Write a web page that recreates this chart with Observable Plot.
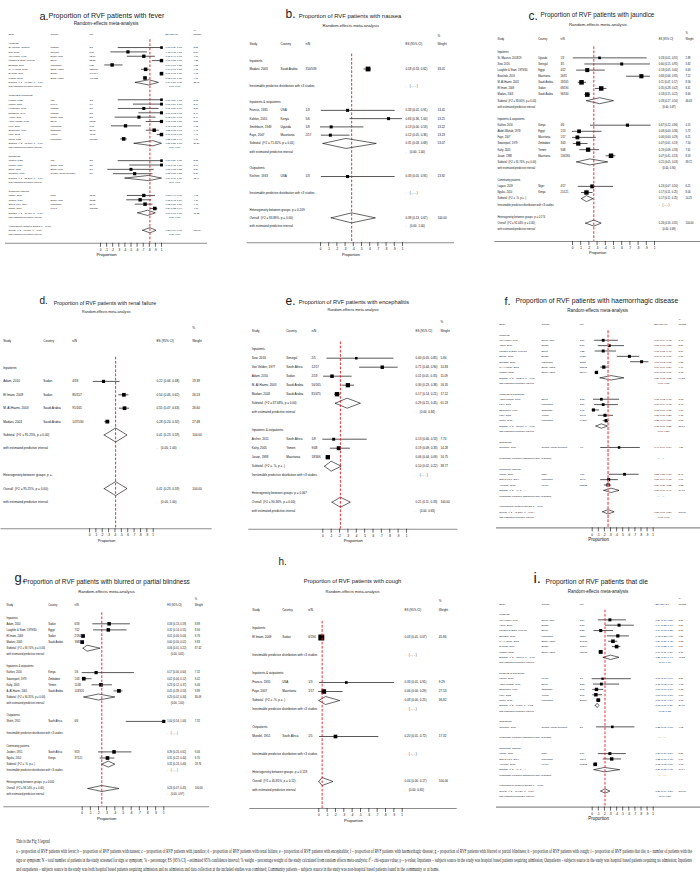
<!DOCTYPE html>
<html><head><meta charset="utf-8">
<script src="https://cdn.jsdelivr.net/npm/d3@7"></script>
<script src="https://cdn.jsdelivr.net/npm/@observablehq/plot@0.6"></script>
<style>
html,body{margin:0;padding:0;background:#fff;}
#fig{position:relative;width:700px;height:875px;overflow:hidden;background:#fff;}
</style></head>
<body><div id="fig"></div>
<script>
// ---------- shared labels ----------
const tickValues = [0,0.1,0.2,0.3,0.4,0.5,0.6,0.7,0.8,0.9,1];
const tickLabels = ["0",".1",".2",".3",".4",".5",".6",".7",".8",".9","1"];
const headerLabels = {study:"Study", country:"Country", nN:"n/N", es:"ES (95% CI)", weight:"Weight", pct:"%"};
const panelLetters = ["a.","b.","c.","d.","e.","f.","g.","h.","i."];
const panelTitles = [
  "Proportion of RVF patients with fever",
  "Proportion of RVF patients with nausea",
  "Proportion of RVF patients with jaundice",
  "Proportion of RVF patients with renal failure",
  "Proportion of RVF patients with encephalitis",
  "Proportion of RVF patients with haemorrhagic disease",
  "Proportion of RVF patients with blurred or partial blindness",
  "Proportion of RVF patients with cough",
  "Proportion of RVF patients that die"
];
const subtitleText = "Random-effects meta-analysis";
const axisLabel = "Proportion";

// ---------- data (type, study, country, n/N, ES, lo, hi, weight) ----------
const feverRows = [
  ["g","Inpatients"],
  ["s","St. Maurice, 2018/19","Uganda","3/3",1.00,0.29,1.00,2.55],
  ["s","Sow, 2016","Senegal","5/11",0.45,0.17,0.77,3.80],
  ["s","Van Velden, 1977","South Africa","12/17",0.71,0.44,0.90,4.06],
  ["s","Laughlin & Stam, 1979/80","Egypt","22/22",1.00,0.85,1.00,4.25],
  ["s","Boushab, 2016","Mauritania","6/31",0.19,0.07,0.37,4.38],
  ["s","M. Al-Hazmi, 2003","Saudi Arabia","122/165",0.74,0.67,0.80,4.65],
  ["s","El Imam, 2009","Sudan","194/194",1.00,0.98,1.00,4.68],
  ["s","Madani, 2003","Saudi Arabia","499/683",0.73,0.70,0.76,4.70],
  ["sub","Subtotal  (I^2 = 97.63%, p = 0.00)",0.79,0.57,0.95,33.07],
  ["pi",0.00,1.00],
  ["gap"],
  ["g","Inpatients & outpatients"],
  ["s","Francis, 1935","USA","3/3",1.00,0.29,1.00,2.55],
  ["s","Kahlon, 2010","Kenya","6/6",1.00,0.54,1.00,3.04],
  ["s","Henderson, 1972","Uganda","5/7",0.71,0.29,0.96,3.30],
  ["s","Smithburn, 1949","Uganda","8/8",1.00,0.63,1.00,3.49],
  ["s","Archer, 2011","South Africa","5/8",0.63,0.24,0.91,3.49],
  ["s","Abdel-Wahab, 1978","Egypt","13/13",1.00,0.75,1.00,3.86],
  ["s","Faye, 2007","Mauritania","7/17",0.41,0.18,0.67,4.03],
  ["s","Swanepoel, 1979","Zimbabwe","38/43",0.88,0.75,0.96,4.41],
  ["s","Kahy, 2005","Yemen","48/48",1.00,0.93,1.00,4.44],
  ["s","Jouan, 1988","Mauritania","109/284",0.38,0.33,0.44,4.66],
  ["sub","Subtotal  (I^2 = 95.00%, p = 0.00)",0.86,0.55,1.00,37.27],
  ["pi",0.00,1.00],
  ["gap"],
  ["g","Outpatients"],
  ["s","Kitchen, 1933","USA","3/3",1.00,0.29,1.00,2.55],
  ["s","Mundel, 1951","South Africa","5/5",1.00,0.48,1.00,3.06],
  ["s","Shieh, 1951","South Africa","3/6",0.50,0.12,0.88,3.24],
  ["s","Gonzalez, 1987","Central African Republic","5/9",0.56,0.21,0.86,3.59],
  ["sub","Subtotal  (I^2 = 53.26%, p = 0.09)",0.79,0.40,1.00,12.44],
  ["pi",0.00,1.00],
  ["gap"],
  ["g","Community patients"],
  ["s","Lagare, 2019","Niger","12/17",0.71,0.44,0.90,4.03],
  ["s","Joubert, 1951","South Africa","15/23",0.65,0.43,0.84,4.19],
  ["s","Sow & Faye, 2014","Mauritania","30/41",0.73,0.57,0.86,4.40],
  ["s","Nguku, 2010","Kenya","108/121",0.89,0.82,0.94,4.60],
  ["sub","Subtotal  (I^2 = 77.60%, p = 0.00)",0.77,0.61,0.90,17.22],
  ["pi",0.30,1.00],
  ["gap"],
  ["het","Heterogeneity between groups: p = 0.961"],
  ["ov","Overall  (I^2 = 95.13%, p = 0.00);",0.81,0.69,0.91,100.00],
  ["pi",0.15,1.00]
];

const nauseaRows = [
  ["g","Inpatients"],
  ["s","Madani, 2003","Saudi Arabia","310/539",0.58,0.53,0.62,33.01],
  ["gap"],
  ["na"],
  ["gap"],
  ["g","Inpatients & outpatients"],
  ["s","Francis, 1935","USA","1/3",0.33,0.01,0.91,13.41],
  ["s","Kahlon, 2010","Kenya","5/6",0.83,0.36,1.00,13.21],
  ["s","Smithburn, 1949","Uganda","1/8",0.13,0.00,0.53,13.22],
  ["s","Faye, 2007","Mauritania","2/17",0.12,0.01,0.36,13.23],
  ["sub","Subtotal  (I^2 = 71.65%, p = 0.01)",0.31,0.03,0.68,53.07],
  ["pi",0.00,1.00],
  ["gap"],
  ["g","Outpatients"],
  ["s","Kitchen, 1933","USA","1/3",0.33,0.01,0.91,13.92],
  ["gap"],
  ["na"],
  ["gap"],
  ["het","Heterogeneity between groups: p = 0.209"],
  ["ov","Overall  (I^2 = 83.89%, p = 0.00);",0.38,0.13,0.67,100.00],
  ["pi",0.00,1.00]
];

const jaundiceRows = [
  ["g","Inpatients"],
  ["s","St. Maurice, 2018/19","Uganda","1/3",0.33,0.01,0.91,2.89],
  ["s","Sow, 2016","Senegal","3/5",0.60,0.15,0.95,3.82],
  ["s","Laughlin & Stam, 1979/80","Egypt","4/22",0.18,0.05,0.40,6.63],
  ["s","Boushab, 2016","Mauritania","26/31",0.84,0.66,0.95,7.12],
  ["s","M. Al-Hazmi, 2003","Saudi Arabia","18/165",0.11,0.07,0.17,8.56],
  ["s","El Imam, 2009","Sudan","68/194",0.35,0.28,0.42,8.41],
  ["s","Madani, 2003","Saudi Arabia","96/530",0.18,0.15,0.22,8.60],
  ["sub","Subtotal  (I^2 = 93.60%, p = 0.00)",0.33,0.17,0.50,46.03],
  ["pi",0.00,0.87],
  ["gap"],
  ["g","Inpatients & outpatients"],
  ["s","Kahlon, 2010","Kenya","4/6",0.67,0.22,0.96,4.15],
  ["s","Abdel-Wahab, 1978","Egypt","1/13",0.08,0.00,0.36,5.72],
  ["s","Faye, 2007","Mauritania","1/17",0.06,0.00,0.29,6.21],
  ["s","Swanepoel, 1979","Zimbabwe","3/43",0.07,0.01,0.19,7.50],
  ["s","Kahy, 2005","Yemen","9/48",0.19,0.09,0.33,7.61],
  ["s","Jouan, 1988","Mauritania","134/284",0.47,0.41,0.53,8.53],
  ["sub","Subtotal  (I^2 = 91.76%, p = 0.00)",0.21,0.05,0.43,39.72],
  ["pi",0.00,0.94],
  ["gap"],
  ["g","Community patients"],
  ["s","Lagare, 2019","Niger","4/17",0.24,0.07,0.50,6.21],
  ["s","Nguku, 2010","Kenya","21/121",0.17,0.11,0.25,8.04],
  ["sub","Subtotal  (I^2 = .%, p = .)",0.17,0.11,0.25,14.25],
  ["na"],
  ["gap"],
  ["het","Heterogeneity between groups: p = 0.174"],
  ["ov","Overall  (I^2 = 92.44%, p = 0.00);",0.26,0.16,0.35,100.00],
  ["pi",0.00,0.69]
];

const renalRows = [
  ["g","Inpatients"],
  ["s","Adam, 2010","Sudan","4/18",0.22,0.06,0.48,19.39],
  ["s","El Imam, 2009","Sudan","85/157",0.54,0.46,0.62,26.53],
  ["s","M. Al-Hazmi, 2003","Saudi Arabia","91/165",0.55,0.47,0.63,26.60],
  ["s","Madani, 2003","Saudi Arabia","147/530",0.28,0.24,0.32,27.48],
  ["sub","Subtotal  (I^2 = 95.25%, p = 0.00)",0.41,0.23,0.59,100.00],
  ["pi",0.00,1.00],
  ["gap"],
  ["het","Heterogeneity between groups: p = ."],
  ["ov","Overall  (I^2 = 95.25%, p = 0.00);",0.41,0.23,0.59,100.00],
  ["pi",0.00,1.00]
];

const encephalitisRows = [
  ["g","Inpatients"],
  ["s","Sow, 2016","Senegal","2/5",0.40,0.05,0.85,5.84],
  ["s","Van Velden, 1977","South Africa","12/17",0.71,0.44,0.90,10.83],
  ["s","Adam, 2010","Sudan","2/18",0.11,0.01,0.35,11.09],
  ["s","M. Al-Hazmi, 2003","Saudi Arabia","50/165",0.30,0.23,0.38,16.35],
  ["s","Madani, 2003","Saudi Arabia","81/475",0.17,0.14,0.21,17.12],
  ["sub","Subtotal  (I^2 = 87.68%, p = 0.00)",0.29,0.15,0.45,61.23],
  ["pi",0.00,0.84],
  ["gap"],
  ["g","Inpatients & outpatients"],
  ["s","Archer, 2011","South Africa","1/8",0.13,0.00,0.53,7.74],
  ["s","Kahy, 2005","Yemen","9/48",0.19,0.09,0.33,14.28],
  ["s","Jouan, 1988","Mauritania","18/306",0.06,0.04,0.09,16.75],
  ["sub","Subtotal  (I^2 = .%, p = .)",0.10,0.02,0.22,38.77],
  ["na"],
  ["gap"],
  ["het","Heterogeneity between groups: p = 0.067"],
  ["ov","Overall  (I^2 = 90.36%, p = 0.00);",0.21,0.11,0.33,100.00],
  ["pi",0.00,0.63]
];

const haemorrhagicRows = [
  ["g","Inpatients"],
  ["s","Van Velden, 1977","South Africa","3/17",0.18,0.04,0.43,5.47],
  ["s","Adam, 2010","Sudan","5/18",0.28,0.10,0.53,5.58],
  ["s","Laughlin & Stam, 1979/80","Egypt","4/22",0.18,0.05,0.40,5.89],
  ["s","Baudin, 2016","Sudan","17/28",0.61,0.41,0.78,6.18],
  ["s","Boushab, 2016","Mauritania","25/31",0.81,0.63,0.93,6.31],
  ["s","M. Al-Hazmi, 2003","Saudi Arabia","32/165",0.19,0.14,0.26,7.46],
  ["s","Madani, 2003","Saudi Arabia","35/494",0.07,0.05,0.10,7.63],
  ["sub","Subtotal  (I^2 = 95.26%, p = 0.00)",0.31,0.13,0.52,44.52],
  ["pi",0.00,0.95],
  ["gap"],
  ["g","Inpatients & outpatients"],
  ["s","Abdel-Wahab, 1978","Egypt","2/13",0.15,0.02,0.45,5.03],
  ["s","Faye, 2007","Mauritania","3/17",0.18,0.04,0.43,5.47],
  ["s","Swanepoel, 1979","Zimbabwe","1/43",0.02,0.00,0.12,6.68],
  ["s","Kahy, 2005","Yemen","10/48",0.21,0.10,0.35,6.75],
  ["s","Jouan, 1988","Mauritania","64/284",0.23,0.18,0.28,7.58],
  ["sub","Subtotal  (I^2 = 73.17%, p = 0.00)",0.15,0.06,0.25,31.51],
  ["pi",0.00,0.50],
  ["gap"],
  ["g","Outpatients"],
  ["s","Gonzalez, 1987","Central African Republic","4/9",0.44,0.14,0.79,4.37],
  ["gap"],
  ["na"],
  ["gap"],
  ["g","Community patients"],
  ["s","Lagare, 2019","Niger","9/17",0.53,0.28,0.77,5.47],
  ["s","Sow & Faye, 2014","Mauritania","11/41",0.27,0.14,0.43,6.61],
  ["s","Anyangu, 2010","Kenya","52/202",0.26,0.20,0.32,7.52],
  ["sub","Subtotal  (I^2 = .%, p = .)",0.31,0.19,0.44,19.60],
  ["na"],
  ["gap"],
  ["het","Heterogeneity between groups: p = 0.099"],
  ["ov","Overall  (I^2 = 91.38%, p = 0.00);",0.26,0.17,0.36,100.00],
  ["pi",0.00,0.67]
];

const blindnessRows = [
  ["g","Inpatients"],
  ["s","Adam, 2010","Sudan","6/18",0.33,0.13,0.59,8.89],
  ["s","Laughlin & Stam, 1979/80","Egypt","7/22",0.32,0.14,0.55,8.94],
  ["s","El Imam, 2009","Sudan","2/194",0.01,0.00,0.04,9.76],
  ["s","Madani, 2003","Saudi Arabia","3/683",0.00,0.00,0.01,9.83],
  ["sub","Subtotal  (I^2 = 93.74%, p = 0.00)",0.06,0.01,0.22,37.42],
  ["pi",0.00,0.65],
  ["gap"],
  ["g","Inpatients & outpatients"],
  ["s","Kahlon, 2010","Kenya","1/6",0.17,0.00,0.64,7.32],
  ["s","Swanepoel, 1979","Zimbabwe","1/43",0.02,0.00,0.12,9.42],
  ["s","Kahy, 2005","Yemen","11/48",0.23,0.12,0.37,9.46],
  ["s","A. Al-Hazmi, 2005","Saudi Arabia","143/320",0.45,0.39,0.50,9.89],
  ["sub","Subtotal  (I^2 = 94.35%, p = 0.00)",0.20,0.02,0.40,36.09],
  ["pi",0.00,1.00],
  ["gap"],
  ["g","Outpatients"],
  ["s","Shieh, 1951","South Africa","6/6",1.00,0.54,1.00,7.32],
  ["gap"],
  ["na"],
  ["gap"],
  ["g","Community patients"],
  ["s","Joubert, 1951","South Africa","9/23",0.39,0.20,0.61,9.06],
  ["s","Nguku, 2010","Kenya","37/121",0.31,0.22,0.40,9.70],
  ["sub","Subtotal  (I^2 = .%, p = .)",0.32,0.24,0.40,18.76],
  ["na"],
  ["gap"],
  ["het","Heterogeneity between groups: p = 0.000"],
  ["ov","Overall  (I^2 = 96.54%, p = 0.00);",0.24,0.07,0.45,100.00],
  ["pi",0.00,0.97]
];

const coughRows = [
  ["g","Inpatients"],
  ["s","El Imam, 2009","Sudan","6/194",0.03,0.01,0.07,45.86],
  ["gap"],
  ["na"],
  ["gap"],
  ["g","Inpatients & outpatients"],
  ["s","Francis, 1935","USA","1/3",0.33,0.01,0.91,9.29],
  ["s","Faye, 2007","Mauritania","1/17",0.06,0.00,0.29,27.53],
  ["sub","Subtotal  (I^2 = .%, p = .)",0.08,0.00,0.25,36.82],
  ["na"],
  ["gap"],
  ["g","Outpatients"],
  ["s","Mundel, 1951","South Africa","1/5",0.20,0.01,0.72,17.32],
  ["gap"],
  ["na"],
  ["gap"],
  ["het","Heterogeneity between groups: p = 0.118"],
  ["ov","Overall  (I^2 = 45.85%, p = 0.12);",0.04,0.00,0.17,100.00],
  ["pi",0.00,0.65]
];

const deathRows = [
  ["g","Inpatients"],
  ["s","Van Velden, 1977","South Africa","5/17",0.29,0.10,0.56,5.26],
  ["s","Adam, 2010","Sudan","8/18",0.44,0.22,0.69,5.37],
  ["s","Laughlin & Stam, 1979/80","Egypt","3/22",0.14,0.03,0.35,5.73],
  ["s","Boushab, 2016","Mauritania","13/31",0.42,0.25,0.61,6.28],
  ["s","M. Al-Hazmi, 2003","Saudi Arabia","56/165",0.34,0.27,0.42,7.52],
  ["s","El Imam, 2009","Sudan","78/194",0.40,0.33,0.47,7.59],
  ["s","Madani, 2003","Saudi Arabia","95/683",0.14,0.11,0.17,8.78],
  ["sub","Subtotal  (I^2 = 92.54%, p = 0.00)",0.30,0.18,0.44,46.53],
  ["pi",0.00,0.77],
  ["gap"],
  ["g","Inpatients & outpatients"],
  ["s","Kahlon, 2010","Kenya","1/6",0.17,0.00,0.64,3.26],
  ["s","Abdel-Wahab, 1978","Egypt","2/13",0.15,0.02,0.45,4.73],
  ["s","Swanepoel, 1979","Zimbabwe","3/43",0.07,0.01,0.19,6.73],
  ["s","Kahy, 2005","Yemen","3/48",0.06,0.01,0.17,6.87],
  ["s","Jouan, 1988","Mauritania","28/284",0.10,0.07,0.14,8.02],
  ["sub","Subtotal  (I^2 = 0.00%, p = 0.73)",0.08,0.05,0.11,29.61],
  ["pi",0.03,0.13],
  ["gap"],
  ["g","Outpatients"],
  ["s","Gonzalez, 1987","Central African Republic","3/9",0.33,0.07,0.70,4.02],
  ["gap"],
  ["na"],
  ["gap"],
  ["g","Community patients"],
  ["s","Lagare, 2019","Niger","5/17",0.29,0.10,0.56,5.26],
  ["s","Sow & Faye, 2014","Mauritania","13/41",0.32,0.18,0.48,6.67],
  ["s","Anyangu, 2010","Kenya","10/202",0.05,0.02,0.09,7.91],
  ["sub","Subtotal  (I^2 = .%, p = .)",0.20,0.03,0.45,19.84],
  ["na"],
  ["gap"],
  ["het","Heterogeneity between groups: p = 0.001"],
  ["ov","Overall  (I^2 = 90.42%, p = 0.00);",0.21,0.14,0.29,100.00],
  ["pi",0.00,0.56]
];

const captionHead = "This is the Fig 3 legend";
const captionLines = [
  "a – proportion of RVF patients with fever; b – proportion of RVF patients with nausea; c – proportion of RVF patients with jaundice; d – proportion of RVF patients with renal failure; e – proportion of RVF patients with encephalitis; f – proportion of RVF patients with haemorrhagic disease; g – proportion of RVF patients with blurred or partial blindness; h – proportion of RVF patients with cough; i – proportion of RVF patients that die; n – number of patients with the",
  "sign or symptom; N – total number of patients in the study screened for sign or symptom; % – percentage; ES (95% CI) – estimated 95% confidence interval; % weight – percentage weight of the study calculated from random effects meta-analysis; I² – chi-square value; p – p-value; Inpatients – subjects source in the study was hospital based patients requiring admission; Outpatients – subjects source in the study was hospital based patients requiring no admission; Inpatients",
  "and outpatients – subjects source in the study was both hospital based patients requiring admission and no admission and data collection at the included studies was combined; Community patients – subjects source in the study was non-hospital based patients found in the community or at home."
];

// ---------- layout (positions / sizes / styles) ----------
const RED = {stroke:"#e8141c", w:0.9, dash:"2.6,1.6"};
const PINK = {stroke:"#f07a7a", w:1.6, dash:"3,1.4"};
const layouts = [
  {left:0, top:0, w:235, h:290, hdr:34, s:4.35, axisRow:48, x0:100, x1:161, ax0:5, ax1:207, cols:[8,50,89,165,193], fs:2.3, k:1.65, dh:2.6, lx:39, ly:15, lfs:11, tx:48, ty:14.5, tfs:7.1, sx:105.5, sy:23, sfs:4.8, labFs:4.4, red:RED},
  {left:235, top:0, w:230, h:290, hdr:43.7, s:8.27, axisRow:24, x0:85, x1:167, ax0:11.7, ax1:219, cols:[14,45,70,170,202], fs:3.0, k:0.83, dh:5, lx:50, ly:13, lfs:12, tx:63.3, ty:15.5, tfs:5.9, sx:115.3, sy:25, sfs:4.2, labFs:3.9, red:RED},
  {left:465, top:0, w:235, h:290, hdr:39, s:6.12, axisRow:33, x0:107, x1:189, ax0:29.3, ax1:235, cols:[32,72.7,95,193.3,220], fs:2.6, k:1.55, dh:3, lx:63, ly:15, lfs:12, tx:75, ty:14.5, tfs:6.4, sx:132.5, sy:23.5, sfs:4.3, labFs:3.8, red:RED},
  {left:0, top:290, w:235, h:285, hdr:50.7, s:13.4, axisRow:14, x0:89, x1:152.7, ax0:0.5, ax1:211.7, cols:[2.7,42.7,71.7,156,191.7], fs:3.1, k:0.72, dh:7, lx:39, ly:10, lfs:10, tx:53.3, ty:12, tfs:5.3, sx:105.8, sy:21, sfs:3.6, labFs:3.8, red:RED},
  {left:235, top:290, w:230, h:285, hdr:40.7, s:9.0, axisRow:22, x0:87.3, x1:171, ax0:13.3, ax1:222.3, cols:[16.3,50.7,76,180,205], fs:3.0, k:1.05, dh:5, lx:50, ly:10, lfs:12, tx:63.3, ty:11.5, tfs:5.7, sx:117.5, sy:19.5, sfs:3.8, labFs:4.1, red:RED},
  {left:465, top:290, w:235, h:285, hdr:33.7, s:5.36, axisRow:38, x0:126.7, x1:187.7, ax0:31, ax1:235, cols:[33.7,76,114.3,188.7,213], fs:2.4, k:1.2, dh:2.2, lx:39, ly:10, lfs:11, tx:50, ty:10, tfs:6.8, sx:132.2, sy:20, sfs:4.5, labFs:4.5, red:PINK},
  {left:0, top:550, w:235, h:290, hdr:55, s:6.1, axisRow:33, x0:81.7, x1:163.3, ax0:3.3, ax1:209, cols:[6,47.7,74,166.7,194.3], fs:2.6, k:1.18, dh:3, lx:14, ly:26, lfs:13, tx:22.7, ty:30.5, tfs:6.45, sx:106, sy:40.5, sfs:4.2, labFs:4.2, red:RED},
  {left:235, top:550, w:230, h:290, hdr:60, s:9.0, axisRow:22, x0:83.3, x1:166.7, ax0:14.3, ax1:221.7, cols:[16.7,46.7,72.7,169,203.3], fs:3.0, k:0.88, dh:4, lx:43, ly:11, lfs:10, tx:68.3, ty:30.5, tfs:5.8, sx:117, sy:40.5, sfs:4.0, labFs:4.1, red:RED},
  {left:465, top:550, w:235, h:290, hdr:53.3, s:5.35, axisRow:38, x0:126.7, x1:187.7, ax0:31, ax1:235, cols:[33.7,76,114.3,190,213], fs:2.4, k:1.3, dh:2.2, lx:68, ly:27, lfs:15, tx:80, ty:30.5, tfs:6.7, sx:132.5, sy:40.5, sfs:4.5, labFs:4.5, red:RED}
];
const panelData = [feverRows, nauseaRows, jaundiceRows, renalRows, encephalitisRows, haemorrhagicRows, blindnessRows, coughRows, deathRows];

const FONT = "'Liberation Sans', Arial, Helvetica, sans-serif";
const NB = "\u00a0";
const f2 = v => v.toFixed(2);

function buildRows(raw) {
  return raw.map((r, k) => {
    const i = k + 2, t = r[0];
    if (t === "s") return {i, t, label:r[1], country:r[2], nN:r[3], es:r[4], lo:r[5], hi:r[6], w:r[7],
      esT:`${f2(r[4])} (${f2(r[5])}, ${f2(r[6])})`, wT:f2(r[7])};
    if (t === "sub" || t === "ov") return {i, t, label:r[1], es:r[2], lo:r[3], hi:r[4], w:r[5],
      esT:`${f2(r[2])} (${f2(r[3])}, ${f2(r[4])})`, wT:f2(r[5])};
    if (t === "pi") return {i, t, label:"with estimated predictive interval", esT:`.${NB}${NB}${NB}${NB}(${f2(r[1])}, ${f2(r[2])})`};
    if (t === "na") return {i, t, label:"Inestimable predictive distribution with <3 studies", esT:`.${NB}${NB}${NB}${NB}(${NB}-${NB},${NB}-${NB})`};
    if (t === "g" || t === "het") return {i, t, label:r[1]};
    return {i, t:"gap"};
  });
}

const fig = document.getElementById("fig");

function drawPanel(raw, L, letter, title) {
  const rows = buildRows(raw);
  const header = [
    {i:0, label:headerLabels.study, country:headerLabels.country, nN:headerLabels.nN, esT:headerLabels.es, wT:headerLabels.weight},
    {i:-1, wT:headerLabels.pct}
  ];
  const all = header.concat(rows.filter(d => d.t !== "gap"));
  const studies = rows.filter(d => d.t === "s");
  const pooled = rows.filter(d => d.t === "sub" || d.t === "ov");
  const overall = rows.filter(d => d.t === "ov");
  const hh = L.dh / L.s;
  const diamond = pooled.flatMap(d =>
    [[d.lo, d.i], [d.es, d.i - hh], [d.hi, d.i], [d.es, d.i + hh], [d.lo, d.i]].map(([x, y]) => ({id: d.i, x, y})));
  const axisPx = L.hdr + L.axisRow * L.s;
  const col = (key, c) => Plot.text(all.filter(d => d[key] != null && d[key] !== ""), {
    y: "i", text: key, frameAnchor: "left", dx: L.cols[c] - L.ax0, textAnchor: "start",
    fontSize: L.fs, fill: "#111"
  });
  const topText = (text, x, base, fs, anchor) => Plot.text([text], {
    frameAnchor: "top-left", dx: x - L.ax0, dy: base - 0.32 * fs, textAnchor: anchor, fontSize: fs, fill: "#1a1a1a"
  });
  const svg = Plot.plot({
    width: L.w, height: L.h,
    marginTop: 0, marginBottom: L.h - axisPx, marginLeft: L.ax0, marginRight: L.w - L.ax1,
    x: {domain: [0, 1], range: [L.x0, L.x1]},
    y: {domain: [0, L.axisRow], range: [L.hdr, axisPx], axis: null},
    r: {type: "sqrt", domain: [0, 100], range: [0, L.k * 10 / Math.sqrt(Math.PI)]},
    style: {fontFamily: FONT, background: "transparent", overflow: "visible"},
    marks: [
      col("label", 0), col("country", 1), col("nN", 2), col("esT", 3), col("wT", 4),
      Plot.ruleY(studies, {y: "i", x1: "lo", x2: "hi", stroke: "#222", strokeWidth: 0.75}),
      Plot.line(diamond, {x: "x", y: "y", z: "id", stroke: "#000", strokeWidth: 0.6}),
      Plot.dot(studies, {x: "es", y: "i", r: "w", symbol: "square", fill: "#000", stroke: "none"}),
      Plot.ruleX(overall, {x: "es", y1: () => 1.2, y2: () => L.axisRow, stroke: L.red.stroke, strokeWidth: L.red.w, strokeDasharray: L.red.dash}),
      Plot.ruleY([L.axisRow], {stroke: "#8c8c8c", strokeWidth: 1.1}),
      Plot.axisX({anchor: "bottom", ticks: tickValues, tickFormat: v => tickLabels[Math.round(v * 10)],
        tickSize: 4, tickPadding: 1.5, fontSize: 3, label: null, strokeWidth: 0.6}),
      Plot.text([axisLabel], {frameAnchor: "bottom", dy: 13, fontSize: L.labFs, fill: "#111"}),
      topText(letter, L.lx, L.ly, L.lfs, "start"),
      topText(title, L.tx, L.ty, L.tfs, "start"),
      topText(subtitleText, L.sx, L.sy, L.sfs, "middle")
    ]
  });
  svg.style.position = "absolute";
  svg.style.left = L.left + "px";
  svg.style.top = L.top + "px";
  fig.appendChild(svg);
}

panelData.forEach((raw, j) => drawPanel(raw, layouts[j], panelLetters[j], panelTitles[j]));

// ---------- caption (HTML, below the charts) ----------
const capTop = 836, capX = 16, capFs = 6.5, capFull = 676;
const capY = [6, 15.5, 24.5, 33.5];
const capTexts = [captionHead].concat(captionLines);
const cap = document.createElement("div");
cap.style.cssText = `position:absolute;left:0;top:${capTop}px;width:700px;height:39px;font-family:'Liberation Serif','Times New Roman',serif;font-size:${capFs}px;color:#222;`;
const spans = capTexts.map((t, j) => {
  const s = document.createElement("span");
  s.textContent = t;
  s.style.cssText = `position:absolute;left:${capX}px;top:${capY[j] - capFs * 0.6}px;white-space:nowrap;transform-origin:0 0;line-height:1;display:inline-block;`;
  cap.appendChild(s);
  return s;
});
fig.appendChild(cap);
const natW = spans.map(s => s.getBoundingClientRect().width);
const squeeze = capFull / natW[1];
spans.forEach((s, j) => {
  const target = (j === 1 || j === 2) ? capFull : natW[j] * squeeze;
  s.style.transform = `scaleX(${(target / natW[j]).toFixed(4)})`;
});
</script>
</body></html>
